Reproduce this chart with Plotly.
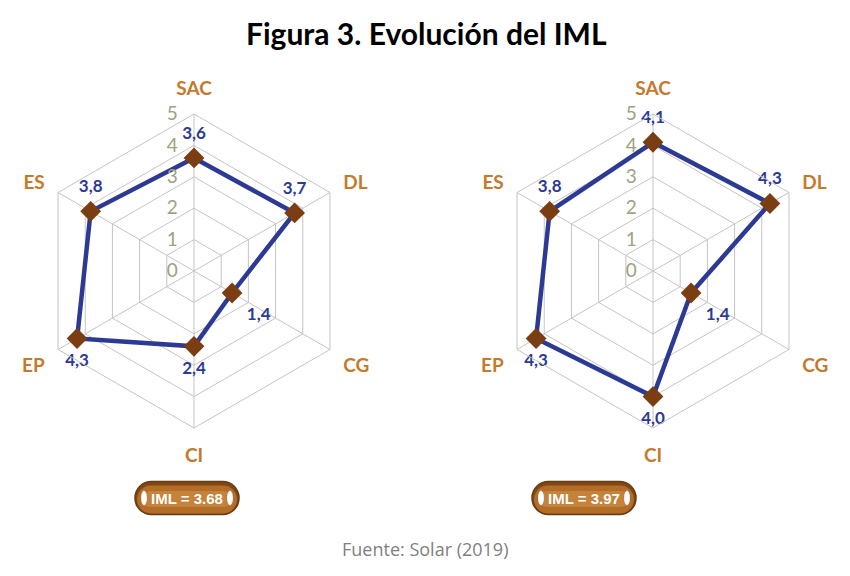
import plotly.graph_objects as go

# datos de la figura
categorias = ["SAC", "DL", "CG", "CI", "EP", "ES"]
iml_antes = [3.6, 3.7, 1.4, 2.4, 4.3, 3.8]
iml_despues = [4.1, 4.3, 1.4, 4.0, 4.3, 3.8]
iml_total = [3.68, 3.97]
ticks_radiales = [0, 1, 2, 3, 4, 5]

pos_antes = ["top center", "top center", "bottom right", "bottom center", "bottom center", "top center"]
pos_despues = ["top center", "top center", "bottom right", "bottom center", "bottom center", "top center"]

W, H = 850, 576
OFF = 8  # margen del body en la pagina
AZUL = "#2C3A94"
MARRON = "#7A3E12"
NARANJA = "#C47A2C"


def etiqueta(v):
    return f"{v:.1f}".replace(".", ",")


fig = go.Figure()

for i, (vals, pos) in enumerate([(iml_antes, pos_antes), (iml_despues, pos_despues)]):
    polar = "polar" if i == 0 else "polar2"
    fig.add_trace(go.Scatterpolar(
        r=vals + vals[:1], theta=categorias + categorias[:1],
        mode="lines", line=dict(color=AZUL, width=4.5),
        subplot=polar, showlegend=False, hoverinfo="skip"))
    fig.add_trace(go.Scatterpolar(
        r=vals, theta=categorias, mode="markers",
        marker=dict(symbol="diamond", size=16, color=MARRON),
        subplot=polar, showlegend=False))
    # etiquetas de valor, algo separadas del marcador
    fig.add_trace(go.Scatterpolar(
        r=vals, theta=categorias, mode="markers+text",
        marker=dict(size=22, color="rgba(0,0,0,0)"),
        text=[etiqueta(v) for v in vals], textposition=pos,
        textfont=dict(family="Lato", size=17, color=AZUL, weight="bold"),
        subplot=polar, showlegend=False, hoverinfo="skip"))

R = 157


def px(x):
    return (x - OFF) / W


def py(y):
    return 1 - (y - OFF) / H


def dominio(cx, cy):
    return dict(x=[px(cx - R), px(cx + R)], y=[py(cy + R), py(cy - R)])


polar_base = dict(
    gridshape="linear",
    bgcolor="white",
    radialaxis=dict(range=[0, 5], tickvals=ticks_radiales, angle=90, tickangle=90,
                    showline=False, ticks="outside", ticklen=9, tickcolor="rgba(0,0,0,0)",
                    gridcolor="#C4C4C4", gridwidth=1,
                    side="counterclockwise",
                    tickfont=dict(family="Lato", size=19, color="#A0A082")),
    angularaxis=dict(direction="clockwise", rotation=90, gridcolor="#C4C4C4",
                     linecolor="#C4C4C4", linewidth=1, ticks="outside", ticklen=11,
                     tickcolor="rgba(0,0,0,0)",
                     tickfont=dict(family="Lato", size=19, color=NARANJA, weight="bold")),
)

fig.update_layout(
    width=W, height=H,
    margin=dict(l=0, r=0, t=0, b=0),
    paper_bgcolor="white",
    polar=dict(domain=dominio(194, 271), **polar_base),
    polar2=dict(domain=dominio(653, 271), **polar_base),
)


def pildora(cx, cy, w, h):
    r = h / 2
    k = 0.5523 * r
    x0, x1 = cx - w / 2 + r, cx + w / 2 - r
    y0, y1 = cy - r, cy + r
    p = f"M {px(x0)},{py(y0)} L {px(x1)},{py(y0)} "
    p += f"C {px(x1 + k)},{py(y0)} {px(x1 + r)},{py(cy - k)} {px(x1 + r)},{py(cy)} "
    p += f"C {px(x1 + r)},{py(cy + k)} {px(x1 + k)},{py(y1)} {px(x1)},{py(y1)} "
    p += f"L {px(x0)},{py(y1)} "
    p += f"C {px(x0 - k)},{py(y1)} {px(x0 - r)},{py(cy + k)} {px(x0 - r)},{py(cy)} "
    p += f"C {px(x0 - r)},{py(cy - k)} {px(x0 - k)},{py(y0)} {px(x0)},{py(y0)} Z"
    return p


for cx, valor in zip([187, 584], iml_total):
    cy = 498
    fig.add_shape(type="path", path=pildora(cx, cy, 104, 33), xref="paper", yref="paper",
                  fillcolor="#7E4817", line=dict(color="#6A3A10", width=1.5), layer="below")
    fig.add_shape(type="path", path=pildora(cx, cy + 1.5, 100, 28), xref="paper", yref="paper",
                  fillcolor="#B36D27", line=dict(width=0), layer="below")
    fig.add_shape(type="path", path=pildora(cx, cy + 1, 90, 16), xref="paper", yref="paper",
                  fillcolor="#C4823A", line=dict(width=0), layer="below")
    for dx in (-43, 43):
        fig.add_shape(type="circle", xref="paper", yref="paper",
                      x0=px(cx + dx - 2.5), x1=px(cx + dx + 2.5),
                      y0=py(cy + 7), y1=py(cy - 7),
                      fillcolor="white", line=dict(color="#EEEEEE", width=1))
    fig.add_annotation(x=px(cx), y=py(cy), xref="paper", yref="paper", showarrow=False,
                       xanchor="center", yanchor="middle",
                       text=f"IML = {valor:.2f}",
                       font=dict(family="Liberation Sans Narrow, Liberation Sans", size=15,
                                 color="white", weight="bold"))

fig.add_annotation(x=px(426), y=py(33), xref="paper", yref="paper", showarrow=False,
                   xanchor="center", yanchor="middle",
                   text="<b>Figura 3. Evolución del IML</b>",
                   font=dict(family="Lato", size=30, color="black"))
fig.add_annotation(x=px(425), y=py(549), xref="paper", yref="paper", showarrow=False,
                   xanchor="center", yanchor="middle",
                   text="Fuente: Solar (2019)",
                   font=dict(family="Open Sans", size=18, color="#7F7F7F"))

fig.write_html("out.html")
